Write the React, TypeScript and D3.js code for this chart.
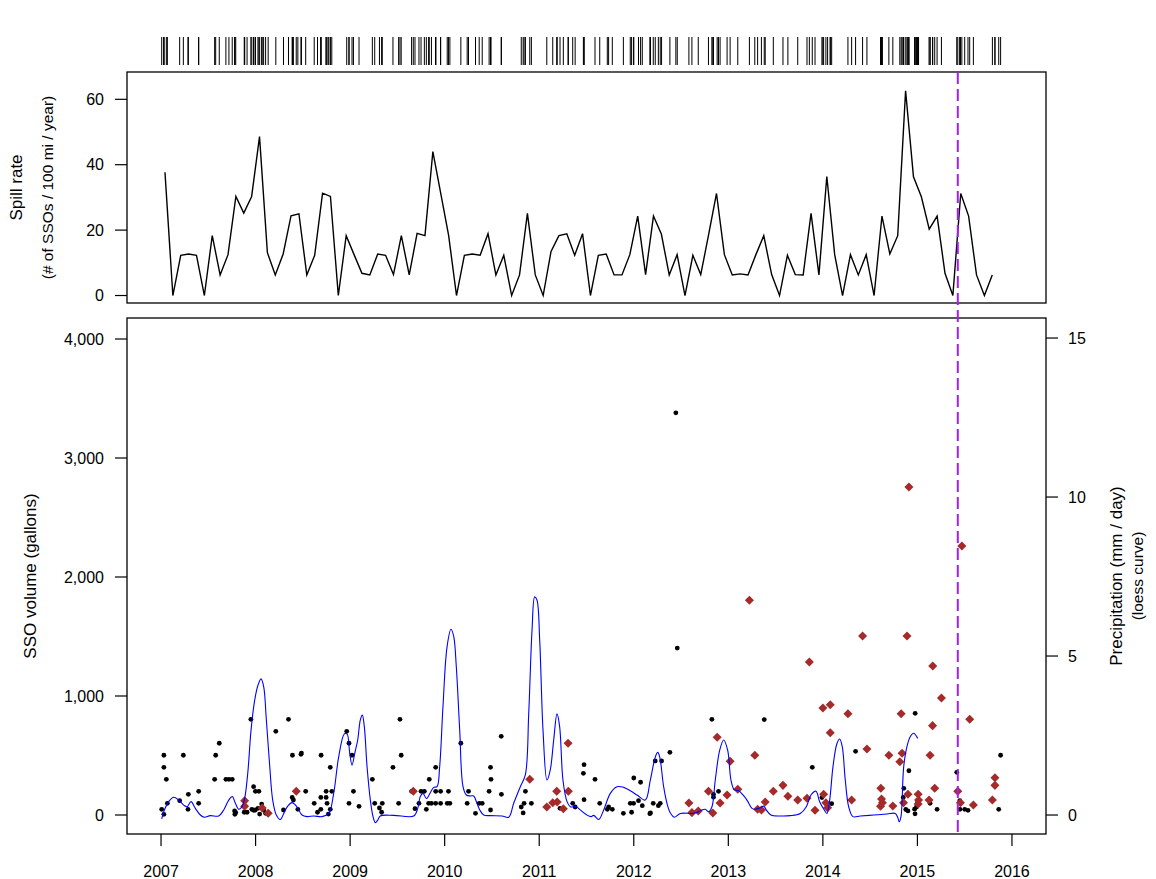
import React from "react";
import * as d3 from "d3";

// Monthly spill rate, Jan 2007 .. Oct 2015 (# of SSOs / 100 mi / year)
const spillStartYear = 2007;
const spillRate = [
  37.7, 0, 12.3, 12.7, 12.3, 0, 18.3, 6.3, 12.5, 30.3, 25.2, 30.3,
  48.6, 13.1, 6.3, 12.7, 24.4, 25.0, 6.3, 12.3, 31.3, 30.3, 0, 18.3,
  12.5, 6.8, 6.3, 12.7, 12.3, 6.4, 18.3, 6.3, 19.0, 18.3, 44.0, 31.2,
  18.4, 0, 12.3, 12.7, 12.3, 18.9, 6.3, 12.3, 0, 6.3, 25.1, 6.3,
  0, 13.5, 18.3, 18.9, 12.3, 18.9, 0, 12.3, 12.7, 6.3, 6.3, 12.5,
  24.3, 6.4, 24.3, 18.8, 6.3, 12.5, 0, 12.3, 6.4, 18.6, 31.2, 12.5,
  6.3, 6.6, 6.3, 12.5, 18.3, 6.4, 0, 12.3, 6.4, 6.3, 25.1, 6.3,
  36.4, 12.5, 0, 12.5, 6.3, 12.5, 0, 24.3, 12.7, 18.3, 62.6, 36.3,
  30.2, 20.3, 24.3, 6.8, 0, 31.2, 24.3, 6.3, 0, 6.3,
];

// SSO events before the change (black dots): [decimal year, gallons]
const dotEvents: [number, number][] = [
  [2007.007, 48], [2007.03, 6], [2007.03, 502], [2007.03, 401], [2007.056, 300], [2007.067, 98],
  [2007.197, 120], [2007.236, 502], [2007.285, 48], [2007.289, 174], [2007.398, 199], [2007.398, 98],
  [2007.567, 300], [2007.578, 502], [2007.616, 603], [2007.686, 300], [2007.718, 300], [2007.753, 300],
  [2007.778, 34], [2007.781, 6], [2007.79, 20], [2007.88, 23], [2007.91, 23], [2007.95, 804],
  [2007.979, 238], [2007.998, 199], [2008.035, 199], [2007.96, 48], [2007.98, 40], [2007.997, 42],
  [2008.025, 56], [2008.043, 8], [2008.064, 92], [2008.085, 42], [2008.106, 14], [2008.214, 703],
  [2008.348, 804], [2008.39, 502], [2008.48, 510], [2008.485, 520], [2008.295, 42], [2008.387, 148],
  [2008.40, 126], [2008.447, 48], [2008.53, 199], [2008.62, 98], [2008.655, 23], [2008.693, 502],
  [2008.69, 48], [2008.69, 148], [2008.746, 199], [2008.746, 148], [2008.756, 98], [2008.79, 401],
  [2008.79, 48], [2008.77, 8], [2008.806, 199], [2008.964, 703], [2008.988, 603], [2009.02, 502],
  [2008.988, 98], [2009.035, 199], [2009.094, 73], [2009.235, 300], [2009.26, 98], [2009.31, 59],
  [2009.34, 98], [2009.333, 23], [2009.453, 401], [2009.527, 804], [2009.54, 502], [2009.513, 98],
  [2009.686, 53], [2009.65, 199], [2009.728, 98], [2009.75, 199], [2009.785, 199], [2009.806, 48],
  [2009.837, 300], [2009.83, 98], [2009.86, 98], [2009.905, 98], [2009.905, 401], [2009.905, 199],
  [2009.957, 199], [2009.957, 98], [2010.04, 199], [2010.027, 98], [2010.055, 98], [2010.171, 603],
  [2010.252, 199], [2010.238, 98], [2010.326, 14], [2010.365, 98], [2010.397, 98], [2010.47, 199],
  [2010.485, 401], [2010.49, 300], [2010.485, 42], [2010.598, 661], [2010.6, 174], [2010.81, 67],
  [2010.83, 17], [2010.84, 98], [2010.854, 199], [2010.917, 98], [2011.22, 56], [2011.354, 98],
  [2011.38, 67], [2011.474, 423], [2011.467, 350], [2011.474, 129], [2011.59, 300], [2011.64, 98],
  [2011.72, 48], [2011.734, 67], [2011.773, 48], [2011.89, 14], [2011.963, 98], [2011.998, 98],
  [2011.977, 23], [2012.0, 311], [2012.072, 275], [2012.05, 120], [2012.09, 78], [2012.17, 11],
  [2012.177, 17], [2012.206, 98], [2012.26, 78], [2012.28, 98], [2012.227, 454], [2012.294, 454],
  [2012.382, 527], [2012.46, 1403], [2012.445, 3380], [2012.826, 804], [2012.843, 174], [2012.843, 150],
  [2012.896, 199], [2013.38, 802], [2013.888, 401], [2013.99, 146], [2014.093, 95], [2014.346, 535],
  [2014.856, 224], [2014.85, 148], [2014.91, 372], [2014.877, 46], [2014.9, 34], [2014.976, 854],
  [2014.97, 49], [2014.975, 10], [2014.99, 67], [2015.0, 101], [2015.134, 98], [2015.208, 48],
  [2015.416, 359], [2015.448, 120], [2015.45, 48], [2015.50, 48], [2015.535, 39], [2015.86, 48],
  [2015.88, 502],
];

// SSO events highlighted (dark red diamonds): [decimal year, gallons]
const diamondEvents: [number, number][] = [
  [2007.884, 120], [2007.884, 73], [2008.07, 59], [2008.133, 14], [2008.43, 199], [2009.668, 199],
  [2010.9, 300], [2011.08, 67], [2011.143, 103], [2011.19, 109], [2011.185, 199], [2011.255, 53],
  [2011.305, 603], [2011.308, 199], [2012.583, 101], [2012.615, 20], [2012.682, 34], [2012.79, 199],
  [2012.836, 17], [2012.882, 653], [2012.913, 101], [2012.987, 168], [2013.019, 451], [2013.1, 216],
  [2013.223, 1804], [2013.28, 502], [2013.31, 48], [2013.35, 42], [2013.39, 109], [2013.476, 199],
  [2013.578, 249], [2013.63, 157], [2013.734, 126], [2013.832, 140], [2013.857, 1286], [2013.917, 39],
  [2014.0, 899], [2014.078, 927], [2014.078, 692], [2014.008, 174], [2014.032, 103], [2014.05, 61],
  [2014.265, 851], [2014.304, 126], [2014.42, 1504], [2014.466, 555], [2014.613, 224], [2014.62, 135],
  [2014.63, 103], [2014.61, 73], [2014.698, 502], [2014.74, 76], [2014.828, 851], [2014.838, 518],
  [2014.814, 448], [2014.89, 1504], [2014.853, 103], [2014.9, 174], [2014.91, 2756], [2015.008, 174],
  [2015.012, 126], [2015.008, 92], [2015.123, 126], [2015.134, 502], [2015.16, 751], [2015.162, 1252],
  [2015.183, 224], [2015.254, 983], [2015.427, 199], [2015.455, 103], [2015.47, 2260], [2015.553, 804],
  [2015.592, 84], [2015.793, 126], [2015.82, 249], [2015.82, 313],
];

// Loess curve of precipitation: [decimal year, mm/day]
const rainCurve: [number, number][] = [
  [2007.007, -0.12], [2007.035, 0.16], [2007.081, 0.42], [2007.134, 0.56], [2007.187, 0.47], [2007.240, 0.31],
  [2007.275, 0.26], [2007.317, 0.42], [2007.363, 0.21], [2007.416, 0], [2007.458, -0.07], [2007.521, -0.02],
  [2007.610, -0.03], [2007.663, 0.16], [2007.716, 0.47], [2007.754, 0.58], [2007.786, 0.37], [2007.822, 0.18],
  [2007.849, 0.23], [2007.881, 0.47], [2007.917, 1.31], [2007.952, 2.67], [2007.991, 3.62], [2008.026, 4.09],
  [2008.058, 4.28], [2008.086, 4.03], [2008.114, 2.99], [2008.150, 1.52], [2008.181, 0.47], [2008.219, 0],
  [2008.262, -0.14], [2008.298, 0.05], [2008.340, 0.28], [2008.385, 0.39], [2008.438, 0.26], [2008.491, 0],
  [2008.544, -0.05], [2008.615, -0.03], [2008.703, -0.05], [2008.774, 0.05], [2008.826, 0.68], [2008.879, 1.83],
  [2008.939, 2.55], [2008.967, 2.55], [2008.996, 1.94], [2009.020, 1.57], [2009.049, 1.94], [2009.080, 2.36],
  [2009.108, 2.99], [2009.129, 3.14], [2009.150, 2.78], [2009.179, 1.52], [2009.214, 0.47], [2009.242, -0.05],
  [2009.266, -0.24], [2009.292, -0.16], [2009.319, -0.03], [2009.461, -0.01], [2009.673, -0.03], [2009.715, 0.21],
  [2009.742, 0.58], [2009.771, 0.68], [2009.806, 0.52], [2009.848, 0.70], [2009.884, 0.87], [2009.919, 0.89],
  [2009.947, 1.52], [2009.982, 3.41], [2010.025, 5.29], [2010.067, 5.84], [2010.096, 5.61], [2010.123, 4.66],
  [2010.159, 2.67], [2010.194, 0.89], [2010.229, 0.63], [2010.271, 0.60], [2010.307, 0.60], [2010.335, 0.42],
  [2010.371, 0.16], [2010.413, 0], [2010.483, -0.02], [2010.606, -0.03], [2010.677, -0.07], [2010.730, 0.37],
  [2010.800, 0.89], [2010.853, 1.26], [2010.889, 3.20], [2010.924, 5.82], [2010.952, 6.86], [2010.976, 6.76],
  [2011.005, 5.50], [2011.040, 2.67], [2011.082, 1.10], [2011.117, 1.42], [2011.153, 2.36], [2011.188, 3.18],
  [2011.216, 2.78], [2011.251, 1.10], [2011.294, 0.42], [2011.329, 0.26], [2011.392, 0.26], [2011.434, 0.16],
  [2011.505, 0], [2011.548, -0.05], [2011.576, -0.01], [2011.629, -0.14], [2011.682, 0.16], [2011.752, 0.68],
  [2011.823, 0.89], [2011.893, 0.87], [2011.963, 0.76], [2012.034, 0.63], [2012.122, 0.47], [2012.175, 1.10],
  [2012.228, 1.83], [2012.253, 1.97], [2012.274, 1.83], [2012.316, 0.89], [2012.351, 0.37], [2012.386, 0.07],
  [2012.428, -0.07], [2012.492, 0.05], [2012.616, 0.05], [2012.669, 0.08], [2012.721, 0.16], [2012.756, 0.18],
  [2012.792, 0.10], [2012.827, 0.26], [2012.862, 1.10], [2012.909, 2.04], [2012.951, 2.36], [2012.993, 2.04],
  [2013.028, 1.10], [2013.063, 0.79], [2013.110, 0.76], [2013.155, 0.63], [2013.197, 0.47], [2013.250, 0.21],
  [2013.285, 0.18], [2013.338, 0.23], [2013.374, 0.28], [2013.401, 0.16], [2013.451, 0], [2013.549, -0.03],
  [2013.655, -0.02], [2013.761, 0.05], [2013.825, 0.26], [2013.874, 0.63], [2013.927, 0.75], [2013.966, 0.42],
  [2014.015, 0.16], [2014.043, 0.05], [2014.072, 0.47], [2014.107, 1.52], [2014.149, 2.25], [2014.178, 2.39],
  [2014.205, 2.15], [2014.237, 1.10], [2014.273, 0.26], [2014.318, -0.05], [2014.396, -0.03], [2014.537, 0],
  [2014.678, 0.03], [2014.766, 0.05], [2014.791, -0.07], [2014.808, -0.21], [2014.826, -0.05], [2014.855, 1.52],
  [2014.889, 2.15], [2014.924, 2.46], [2014.960, 2.57], [2015.003, 2.41],
];

const xTicks = [2007, 2008, 2009, 2010, 2011, 2012, 2013, 2014, 2015, 2016];
const rateTicks = [0, 20, 40, 60];
const volumeTicks = [0, 1000, 2000, 3000, 4000];
const rainTicks = [0, 5, 10, 15];
const cutoffYear = 2015.427;

const FONT = "'Liberation Sans', Arial, Helvetica, sans-serif";

export default function App() {
  const W = 1156;
  const H = 879;
  const left = 127;
  const right = 1046;
  const topPanel = { top: 72, bottom: 303 };
  const botPanel = { top: 318, bottom: 834 };
  const rug = { top: 37, bottom: 65 };

  const x = d3.scaleLinear().domain([2006.64, 2016.36]).range([left, right]);
  const yRate = d3.scaleLinear().domain([-2.29, 68.35]).range([topPanel.bottom, topPanel.top]);
  const yVol = d3.scaleLinear().domain([-159.7, 4176.5]).range([botPanel.bottom, botPanel.top]);
  const yRain = d3.scaleLinear().domain([-0.597, 15.63]).range([botPanel.bottom, botPanel.top]);

  const rateLine = d3
    .line<number>()
    .x((_, i) => x(spillStartYear + (i + 0.5) / 12))
    .y((d) => yRate(d));

  const rainLine = d3
    .line<[number, number]>()
    .x((d) => x(d[0]))
    .y((d) => yRain(d[1]))
    .curve(d3.curveCatmullRom.alpha(0.5));

  const allEvents = [...dotEvents, ...diamondEvents].map((d) => d[0]).sort((a, b) => a - b);
  const fmt = d3.format(",");
  const tick = 12;
  const diamond = d3.symbol().type(d3.symbolDiamond2).size(52)();

  return (
    <svg
      width={W}
      height={H}
      style={{ position: "absolute", left: 0, top: 0, background: "#fff" }}
      fontFamily={FONT}
    >
      <rect width={W} height={H} fill="#fff" />

      {/* rug of events */}
      <g stroke="#000" strokeWidth={1}>
        {allEvents.map((d, i) => (
          <line key={i} x1={x(d)} x2={x(d)} y1={rug.top} y2={rug.bottom} />
        ))}
      </g>

      {/* top panel */}
      <path d={rateLine(spillRate) || ""} fill="none" stroke="#000" strokeWidth={1.4} strokeLinejoin="miter" />
      <rect
        x={left}
        y={topPanel.top}
        width={right - left}
        height={topPanel.bottom - topPanel.top}
        fill="none"
        stroke="#000"
        strokeWidth={1.3}
      />
      <g fontSize={16} textAnchor="end">
        {rateTicks.map((t) => (
          <g key={t}>
            <line x1={left - tick} x2={left} y1={yRate(t)} y2={yRate(t)} stroke="#000" strokeWidth={1.2} />
            <text x={104} y={yRate(t)} dy="0.36em">
              {t}
            </text>
          </g>
        ))}
      </g>
      <text transform={`translate(22,${(topPanel.top + topPanel.bottom) / 2}) rotate(-90)`} textAnchor="middle" fontSize={17}>
        Spill rate
      </text>
      <text transform={`translate(53,${(topPanel.top + topPanel.bottom) / 2}) rotate(-90)`} textAnchor="middle" fontSize={15.5}>
        (# of SSOs / 100 mi / year)
      </text>

      {/* bottom panel */}
      <g fill="#000">
        {dotEvents.map((d, i) => (
          <circle key={i} cx={x(d[0])} cy={yVol(d[1])} r={2.4} />
        ))}
      </g>
      <g fill="#A52A2A">
        {diamondEvents.map((d, i) => (
          <path key={i} d={diamond || ""} transform={`translate(${x(d[0])},${yVol(d[1])})`} />
        ))}
      </g>
      <path d={rainLine(rainCurve) || ""} fill="none" stroke="#0000FF" strokeWidth={1.1} />
      <rect
        x={left}
        y={botPanel.top}
        width={right - left}
        height={botPanel.bottom - botPanel.top}
        fill="none"
        stroke="#000"
        strokeWidth={1.3}
      />
      <g fontSize={16} textAnchor="end">
        {volumeTicks.map((t) => (
          <g key={t}>
            <line x1={left - tick} x2={left} y1={yVol(t)} y2={yVol(t)} stroke="#000" strokeWidth={1.2} />
            <text x={104} y={yVol(t)} dy="0.36em">
              {fmt(t)}
            </text>
          </g>
        ))}
      </g>
      <g fontSize={16} textAnchor="start">
        {rainTicks.map((t) => (
          <g key={t}>
            <line x1={right} x2={right + tick} y1={yRain(t)} y2={yRain(t)} stroke="#000" strokeWidth={1.2} />
            <text x={1068} y={yRain(t)} dy="0.36em">
              {t}
            </text>
          </g>
        ))}
      </g>
      <g fontSize={16} textAnchor="middle">
        {xTicks.map((t) => (
          <g key={t}>
            <line x1={x(t)} x2={x(t)} y1={botPanel.bottom} y2={botPanel.bottom + tick} stroke="#000" strokeWidth={1.2} />
            <text x={x(t)} y={877}>
              {t}
            </text>
          </g>
        ))}
      </g>
      <text transform={`translate(36,${(botPanel.top + botPanel.bottom) / 2}) rotate(-90)`} textAnchor="middle" fontSize={17}>
        SSO volume (gallons)
      </text>
      <text transform={`translate(1122,${(botPanel.top + botPanel.bottom) / 2}) rotate(-90)`} textAnchor="middle" fontSize={17}>
        Precipitation (mm / day)
      </text>
      <text transform={`translate(1143,${(botPanel.top + botPanel.bottom) / 2}) rotate(-90)`} textAnchor="middle" fontSize={15.5}>
        (loess curve)
      </text>

      {/* cutoff date */}
      <line
        x1={x(cutoffYear)}
        x2={x(cutoffYear)}
        y1={topPanel.top}
        y2={botPanel.bottom}
        stroke="#A020F0"
        strokeWidth={2}
        strokeDasharray="12,5"
      />
    </svg>
  );
}
